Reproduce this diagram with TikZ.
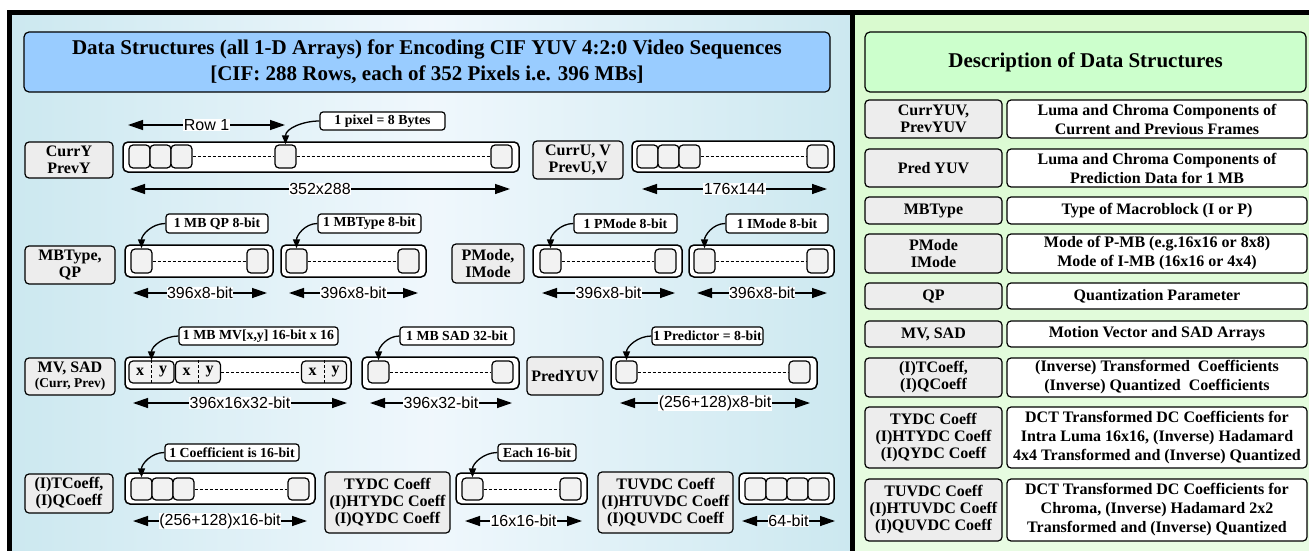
\documentclass[tikz,border=0pt]{standalone}
\usepackage{fontspec}
\setmainfont{Liberation Serif}
\setsansfont{Liberation Sans}
\usetikzlibrary{arrows.meta}

\definecolor{titleblue}{rgb}{0.60,0.80,1.00}
\definecolor{titlegreen}{rgb}{0.80,1.00,0.80}
\definecolor{boxgray}{rgb}{0.93,0.93,0.93}
\definecolor{cellgray}{rgb}{0.95,0.95,0.95}
\definecolor{panelblue}{rgb}{0.80,0.91,0.94}
\definecolor{panelwhite}{rgb}{0.94,0.97,0.99}
\definecolor{panelgreen}{rgb}{0.85,0.98,0.81}
\definecolor{panellight}{rgb}{0.91,0.99,0.89}

\tikzset{
  namebox/.style={draw,line width=1.2pt,rounded corners=4pt,fill=boxgray,align=center,inner sep=0pt,font=\bfseries\fontsize{16}{17}\selectfont},
  descbox/.style={draw,line width=1.2pt,rounded corners=4pt,fill=white,align=center,inner sep=0pt,font=\bfseries\fontsize{16}{19}\selectfont},
  arraybox/.style={draw,line width=1.5pt,rounded corners=5pt,fill=white,inner sep=0pt},
  pixcell/.style={draw,line width=1.2pt,rounded corners=4pt,fill=cellgray,inner sep=0pt,minimum width=21pt,minimum height=23pt},
  notebox/.style={draw,line width=1.2pt,rounded corners=3pt,fill=white,inner sep=0pt,font=\bfseries\fontsize{13.8}{14}\selectfont},
  xylabel/.style={inner sep=0pt,font=\bfseries\fontsize{16}{16}\selectfont},
  callarrow/.style={line width=1.3pt,-{Triangle[length=9pt,width=7pt]}},
  sizearrowline/.style={line width=1.3pt,{Triangle[length=15pt,width=10pt]}-{Triangle[length=15pt,width=10pt]}},
  sizelabel/.style={fill=white,inner sep=0.5pt,font=\sffamily\fontsize{16}{16}\selectfont},
  dotline/.style={line width=1pt,dash pattern=on 3pt off 2pt},
}

% double arrow with its size label: name, left x, right x, y, text
\newcommand{\sizearrow}[5]{%
  \coordinate (#1l) at (#2,#4);
  \coordinate (#1r) at (#3,#4);
  \draw[sizearrowline] (#1l) -- node[sizelabel]{#5} (#1r);
}

\begin{document}
\begin{tikzpicture}[x=1pt,y=-1pt]
\useasboundingbox (0,0) rectangle (1309,551);

% panels and frame
\shade[left color=panelblue,right color=panelblue,middle color=panelwhite] (12,15) rectangle (850,551);
\shade[top color=panelgreen,bottom color=panellight] (855,15) rectangle (1309,551);
\fill[black] (7,10) rectangle (1309,15);
\fill[black] (7,10) rectangle (12,551);
\fill[black] (850,10) rectangle (855,551);

\node[draw,line width=1.2pt,rounded corners=5pt,fill=titleblue,align=center,minimum width=806pt,minimum height=60pt,font=\bfseries\fontsize{21}{26}\selectfont] (title) at (427,62)
  {Data Structures (all 1-D Arrays) for Encoding CIF YUV 4:2:0 Video Sequences\\ {[CIF: 288 Rows, each of 352 Pixels i.e. 396 MBs]}};
\node[draw,line width=1.2pt,rounded corners=5pt,fill=titlegreen,minimum width=441pt,minimum height=60pt,font=\bfseries\fontsize{21}{24}\selectfont] (desctitle) at (1085.5,62)
  {Description of Data Structures};

% row 1: luma and chroma frames
\node[namebox,minimum width=88pt,minimum height=36pt] (lblY) at (69,160) {CurrY\\PrevY};
\node[arraybox,minimum width=396pt,minimum height=30pt] (arrY) at (321,157) {};
\node[pixcell] (cY1) at (139.5,156.5) {};
\node[pixcell] (cY2) at (160.5,156.5) {};
\node[pixcell] (cY3) at (181.5,156.5) {};
\node[pixcell] (cY4) at (285.5,156.5) {};
\node[pixcell] (cY5) at (501.5,156.5) {};
\draw[dotline] (cY3.east) -- (cY4.west);
\draw[dotline] (cY4.east) -- (cY5.west);
\node[notebox,minimum width=125pt,minimum height=18pt] (noteY) at (382.5,121) {1 pixel = 8 Bytes};
\draw[callarrow] (noteY.west) to[out=180,in=90] (cY4.north);
\sizearrow{row}{128}{285}{125}{Row 1}
\sizearrow{szY}{130}{510}{189}{352x288}

\node[namebox,minimum width=90pt,minimum height=38pt] (lblU) at (578,160) {CurrU, V\\PrevU,V};
\node[arraybox,minimum width=202pt,minimum height=31pt] (arrU) at (733,156.5) {};
\node[pixcell] (cU1) at (647.5,156.5) {};
\node[pixcell] (cU2) at (668.5,156.5) {};
\node[pixcell] (cU3) at (689.5,156.5) {};
\node[pixcell] (cU4) at (817.5,156.5) {};
\draw[dotline] (cU3.east) -- (cU4.west);
\sizearrow{szU}{642}{827}{189}{176x144}

% row 2: per-MB bytes
\node[namebox,minimum width=90pt,minimum height=38pt] (lblMQ) at (70,265) {MBType,\\QP};
\node[arraybox,minimum width=148pt,minimum height=32pt] (arrQ) at (199,261) {};
\node[pixcell,minimum height=24pt] (cQ1) at (141.5,261) {};
\node[pixcell,minimum height=24pt] (cQ2) at (257.5,261) {};
\draw[dotline] (cQ1.east) -- (cQ2.west);
\node[notebox,minimum width=102pt,minimum height=19pt] (noteQ) at (217,223.5) {1 MB QP 8-bit};
\draw[callarrow] (noteQ.west) to[out=180,in=90] (cQ1.north);
\sizearrow{szQ}{133}{267}{293}{396x8-bit}

\node[arraybox,minimum width=145pt,minimum height=32pt] (arrM) at (353.5,261) {};
\node[pixcell,minimum height=24pt] (cM1) at (296.5,261) {};
\node[pixcell,minimum height=24pt] (cM2) at (408.5,261) {};
\draw[dotline] (cM1.east) -- (cM2.west);
\node[notebox,minimum width=103pt,minimum height=19pt] (noteM) at (369.5,223.5) {1 MBType 8-bit};
\draw[callarrow] (noteM.west) to[out=180,in=90] (cM1.north);
\sizearrow{szM}{289}{418}{293}{396x8-bit}

\node[namebox,minimum width=72pt,minimum height=39pt] (lblPI) at (488,263.5) {PMode,\\IMode};
\node[arraybox,minimum width=149pt,minimum height=32pt] (arrP) at (607.5,261) {};
\node[pixcell,minimum height=24pt] (cP1) at (550.5,261) {};
\node[pixcell,minimum height=24pt] (cP2) at (665.5,261) {};
\draw[dotline] (cP1.east) -- (cP2.west);
\node[notebox,minimum width=103pt,minimum height=19pt] (noteP) at (625.5,223.5) {1 PMode 8-bit};
\draw[callarrow] (noteP.west) to[out=180,in=90] (cP1.north);
\sizearrow{szP}{542}{675}{293}{396x8-bit}

\node[arraybox,minimum width=145pt,minimum height=32pt] (arrI) at (761.5,261) {};
\node[pixcell,minimum height=24pt] (cI1) at (704.5,261) {};
\node[pixcell,minimum height=24pt] (cI2) at (817.5,261) {};
\draw[dotline] (cI1.east) -- (cI2.west);
\node[notebox,minimum width=102pt,minimum height=19pt] (noteI) at (777,223.5) {1 IMode 8-bit};
\draw[callarrow] (noteI.west) to[out=180,in=90] (cI1.north);
\sizearrow{szI}{697}{827}{293}{396x8-bit}

% row 3: motion vectors, SAD, prediction
\node[namebox,minimum width=90pt,minimum height=37pt] (lblMV) at (70,376.5) {MV, SAD\\[-2pt]{\fontsize{13.5}{14}\selectfont (Curr, Prev)}};
\node[arraybox,minimum width=226pt,minimum height=32pt] (arrMV) at (238,373) {};
\foreach \n/\cx in {1/151.5,2/198,3/324}{
  \node[pixcell,minimum width=45pt,minimum height=22pt] (mv\n) at (\cx,372) {};
  \draw[dotline] (mv\n.north) -- (mv\n.south);
  \node[xylabel] (mv\n x) at (\cx-11.5,372) {x};
  \node[xylabel] (mv\n y) at (\cx+11.5,372) {y};
}
\draw[dotline] (mv2.east) -- (mv3.west);
\node[notebox,minimum width=159pt,minimum height=18pt] (noteMV) at (258.5,336) {1 MB MV[x,y] 16-bit x 16};
\draw[callarrow] (noteMV.west) to[out=180,in=90] (mv1.north);
\sizearrow{szMV}{133}{347}{403}{396x16x32-bit}

\node[arraybox,minimum width=157pt,minimum height=32pt] (arrS) at (440.5,373) {};
\node[pixcell,minimum height=22pt] (cS1) at (378.5,372) {};
\node[pixcell,minimum height=22pt] (cS2) at (502.5,372) {};
\draw[dotline] (cS1.east) -- (cS2.west);
\node[notebox,minimum width=114pt,minimum height=18pt] (noteS) at (457,336) {1 MB SAD 32-bit};
\draw[callarrow] (noteS.west) to[out=180,in=90] (cS1.north);
\sizearrow{szS}{370}{512}{403}{396x32-bit}

\node[namebox,minimum width=76pt,minimum height=38pt] (lblPY) at (565,376) {PredYUV};
\node[arraybox,minimum width=206pt,minimum height=32pt] (arrR) at (714,373) {};
\node[pixcell,minimum height=22pt] (cR1) at (626.5,372) {};
\node[pixcell,minimum height=22pt] (cR2) at (799.5,372) {};
\draw[dotline] (cR1.east) -- (cR2.west);
\node[notebox,minimum width=111pt,minimum height=18pt] (noteR) at (707.5,336) {1 Predictor = 8-bit};
\draw[callarrow] (noteR.west) to[out=180,in=90] (cR1.north);
\sizearrow{szR}{620}{810}{403}{(256+128)x8-bit}

% row 4: coefficients
\node[namebox,minimum width=88pt,minimum height=39pt] (lblTC) at (69,493.5) {(I)TCoeff,\\(I)QCoeff};
\node[arraybox,minimum width=190pt,minimum height=31pt] (arrT) at (220,488.5) {};
\node[pixcell,minimum height=22pt] (cT1) at (141.5,489) {};
\node[pixcell,minimum height=22pt] (cT2) at (162.5,489) {};
\node[pixcell,minimum height=22pt] (cT3) at (183.5,489) {};
\node[pixcell,minimum height=22pt] (cT4) at (298.5,489) {};
\draw[dotline] (cT3.east) -- (cT4.west);
\node[notebox,minimum width=134pt,minimum height=17pt] (noteT) at (232,452.5) {1 Coefficient is 16-bit};
\draw[callarrow] (noteT.west) to[out=180,in=90] (cT1.north);
\sizearrow{szT}{133}{307}{521}{(256+128)x16-bit}

\node[namebox,minimum width=125pt,minimum height=61pt] (lblYDC) at (387.5,502.5) {TYDC Coeff\\(I)HTYDC Coeff\\(I)QYDC Coeff};
\node[arraybox,minimum width=131pt,minimum height=31pt] (arrD) at (521.5,488.5) {};
\node[pixcell,minimum height=22pt] (cD1) at (472.5,489) {};
\node[pixcell,minimum height=22pt] (cD2) at (570.5,489) {};
\draw[dotline] (cD1.east) -- (cD2.west);
\node[notebox,minimum width=78pt,minimum height=17pt] (noteD) at (537,452.5) {Each 16-bit};
\draw[callarrow] (noteD.west) to[out=180,in=90] (cD1.north);
\sizearrow{szD}{465}{582}{521}{16x16-bit}

\node[namebox,minimum width=135pt,minimum height=61pt] (lblUVDC) at (665.5,502.5) {TUVDC Coeff\\(I)HTUVDC Coeff\\(I)QUVDC Coeff};
\node[arraybox,minimum width=95pt,minimum height=31pt] (arrC) at (786.5,488.5) {};
\foreach \n/\cx in {1/755.5,2/776.5,3/797.5,4/818.5}
  \node[pixcell,minimum height=22pt] (cC\n) at (\cx,489) {};
\sizearrow{szC}{742}{835}{521}{64-bit}

% description table
\node[namebox,minimum width=137pt,minimum height=38pt] (dn1) at (933.5,119) {CurrYUV,\\PrevYUV};
\node[descbox,minimum width=300pt,minimum height=38pt] (dd1) at (1157,119) {Luma and Chroma Components of\\Current and Previous Frames};
\node[namebox,minimum width=137pt,minimum height=38pt] (dn2) at (933.5,168) {Pred YUV};
\node[descbox,minimum width=300pt,minimum height=38pt] (dd2) at (1157,168) {Luma and Chroma Components of\\Prediction Data for 1 MB};
\node[namebox,minimum width=137pt,minimum height=27pt] (dn3) at (933.5,210.5) {MBType};
\node[descbox,minimum width=300pt,minimum height=27pt] (dd3) at (1157,210.5) {Type of Macroblock (I or P)};
\node[namebox,minimum width=137pt,minimum height=39pt] (dn4) at (933.5,253.5) {PMode\\IMode};
\node[descbox,minimum width=300pt,minimum height=39pt] (dd4) at (1157,253.5) {Mode of P-MB (e.g.16x16 or 8x8)\\Mode of I-MB (16x16 or 4x4)};
\node[namebox,minimum width=137pt,minimum height=26pt] (dn5) at (933.5,296) {QP};
\node[descbox,minimum width=300pt,minimum height=26pt] (dd5) at (1157,296) {Quantization Parameter};
\node[namebox,minimum width=137pt,minimum height=26pt] (dn6) at (933.5,334) {MV, SAD};
\node[descbox,minimum width=300pt,minimum height=26pt] (dd6) at (1157,334) {Motion Vector and SAD Arrays};
\node[namebox,minimum width=137pt,minimum height=39pt] (dn7) at (933.5,377.5) {(I)TCoeff,\\(I)QCoeff};
\node[descbox,minimum width=300pt,minimum height=39pt] (dd7) at (1157,377.5) {(Inverse) Transformed\ \ Coefficients\\(Inverse) Quantized\ \ Coefficients};
\node[namebox,minimum width=137pt,minimum height=61pt] (dn8) at (933.5,437.5) {TYDC Coeff\\(I)HTYDC Coeff\\(I)QYDC Coeff};
\node[descbox,minimum width=300pt,minimum height=61pt] (dd8) at (1157,437.5) {DCT Transformed DC Coefficients for\\Intra Luma 16x16, (Inverse) Hadamard\\4x4 Transformed and (Inverse) Quantized};
\node[namebox,minimum width=137pt,minimum height=62pt] (dn9) at (933.5,510) {TUVDC Coeff\\(I)HTUVDC Coeff\\(I)QUVDC Coeff};
\node[descbox,minimum width=300pt,minimum height=62pt] (dd9) at (1157,510) {DCT Transformed DC Coefficients for\\Chroma, (Inverse) Hadamard 2x2\\Transformed and (Inverse) Quantized};
\end{tikzpicture}
\end{document}
